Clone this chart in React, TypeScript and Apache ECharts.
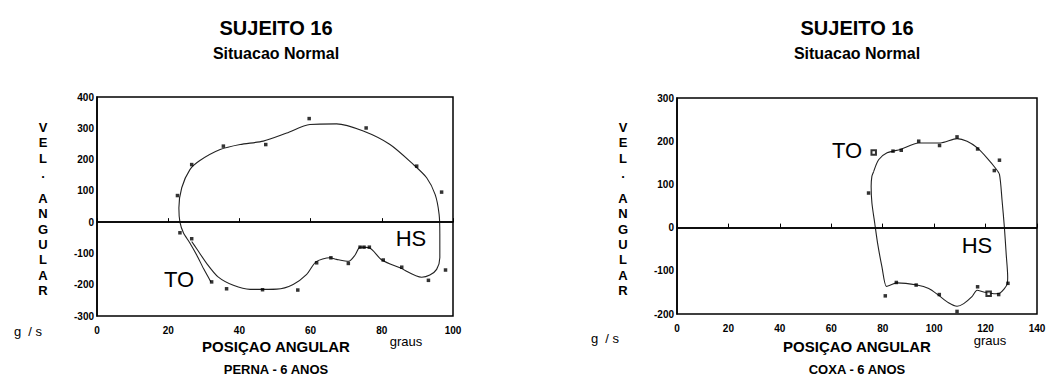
import React, { useEffect, useRef } from "react";
import * as echarts from "echarts";

// ---- Data: left chart (PERNA) ----
const pernaCurve: number[][] = [
  [32, -191], [30, -150], [28, -105], [26, -65], [24.3, -35], [23.3, 0], [23, 45], [23.8, 110],
  [26.1, 168], [28.9, 197], [34.6, 232], [40.2, 248], [46.7, 259], [53.3, 285], [59.8, 312],
  [67.3, 314], [74.8, 291], [82.3, 248], [88.9, 184], [92.6, 142], [95, 88], [96.1, 25],
  [96.3, -39], [96.3, -114], [95.4, -151], [93.5, -169], [91.2, -176], [85.1, -146], [80, -121],
  [76.5, -82], [73.9, -80], [72.5, -105], [70.7, -125], [67.3, -119], [65.4, -114], [61.5, -127],
  [58.9, -167], [55.1, -199], [50.5, -214], [43, -215], [38.3, -202], [34, -175], [31, -135],
  [28, -85], [26.6, -62],
];
const pernaDots: number[][] = [
  [22.6, 85], [26.6, 184], [35.5, 243], [47.4, 248], [59.6, 331], [75.6, 301], [89.8, 179],
  [96.8, 96], [97.9, -153], [93.1, -186], [85.6, -144], [80.4, -121], [75, -80], [76.5, -80],
  [73.9, -80], [70.6, -132], [65.7, -114], [61.7, -130], [56.4, -217], [46.5, -216],
  [36.4, -213], [32.2, -191], [26.6, -53], [23.3, -34],
];

// ---- Data: right chart (COXA) ----
const coxaCurve: number[][] = [
  [76.5, 130], [78.4, 157], [81.7, 173], [86.9, 181], [94, 196], [102.4, 196], [108.9, 206],
  [112.8, 200], [116.7, 185], [120.6, 161], [123.8, 138], [125.4, 123], [126.4, 64], [127.3, 2],
  [128, -60], [128.6, -114], [128.4, -131], [125.7, -151], [123.2, -153], [119.3, -149],
  [116.7, -145], [114.7, -160], [111.5, -176], [108.9, -182], [105.6, -174], [101.8, -157],
  [97.9, -141], [93.3, -133], [85.6, -128], [83, -133], [81.4, -136], [79.7, -91], [78, -36],
  [76.9, 10], [75.8, 57], [75.5, 95], [75.8, 119], [76.5, 130],
];
const coxaDots: number[][] = [
  [74.5, 80], [84, 177], [87.2, 179], [94, 200], [102.1, 190], [108.9, 210], [116.9, 182],
  [125.4, 156], [123.4, 132], [128.7, -129], [125.1, -155], [116.9, -137], [108.9, -194],
  [102, -155], [93, -133], [85.3, -127], [81, -158],
];
const coxaOpenDots: number[][] = [[76.5, 174], [121.2, -153]];

const pernaXTicks = { min: 0, max: 100, interval: 20 };
const pernaYTicks = { min: -300, max: 400, interval: 100 };
const coxaXTicks = { min: 0, max: 140, interval: 20 };
const coxaYTicks = { min: -200, max: 300, interval: 100 };

const TITLE = "SUJEITO 16";
const SUBTITLE = "Situacao Normal";
const XNAME = "POSIÇAO ANGULAR";
const CAPTIONS = ["PERNA - 6 ANOS", "COXA - 6 ANOS"];

const FONT = "'Liberation Sans', Arial, sans-serif";

export default function App() {
  const ref = useRef<HTMLDivElement>(null);
  useEffect(() => {
    if (!ref.current) return;
    const chart = echarts.init(ref.current, null, { renderer: "svg" });

    const axisLabel = { color: "#000", fontSize: 10, fontWeight: "bold" as const, fontFamily: FONT };
    const xAxisBase = (gi: number, t: any) => ({
      type: "value" as const,
      gridIndex: gi,
      min: t.min,
      max: t.max,
      interval: t.interval,
      axisLine: { show: true, lineStyle: { color: "#000", width: 1.5 } },
      axisTick: { show: true, inside: true, length: 4, lineStyle: { color: "#000" } },
      splitLine: { show: false },
      axisLabel: { ...axisLabel, margin: 9 },
    });
    const yAxisBase = (gi: number, t: any) => ({
      type: "value" as const,
      gridIndex: gi,
      min: t.min,
      max: t.max,
      interval: t.interval,
      axisLine: { show: true, lineStyle: { color: "#000", width: 1.5 } },
      axisTick: { show: false },
      splitLine: { show: false },
      axisLabel: { ...axisLabel, margin: 3 },
    });
    const zeroLine = {
      silent: true,
      symbol: "none",
      label: { show: false },
      lineStyle: { color: "#000", width: 1.5, type: "solid" as const },
      data: [{ yAxis: 0 }],
    };
    const curve = (gi: number, data: number[][], withZero: boolean) => ({
      type: "line" as const,
      xAxisIndex: gi,
      yAxisIndex: gi,
      data,
      smooth: 0.25,
      showSymbol: false,
      lineStyle: { color: "#222", width: 1.1 },
      markLine: withZero ? zeroLine : undefined,
      z: 3,
    });
    const dots = (gi: number, data: number[][], symbol = "rect") => ({
      type: "scatter" as const,
      xAxisIndex: gi,
      yAxisIndex: gi,
      data,
      symbol,
      symbolSize: symbol === "emptyRect" ? 4.5 : 3.5,
      itemStyle: { color: "#000", borderColor: "#000", borderWidth: symbol === "emptyRect" ? 1 : 0 },
      z: 4,
    });

    const txt = (x: number, y: number, text: string, size: number, bold: boolean, align = "center") => ({
      type: "text" as const,
      x,
      y,
      style: {
        text,
        fill: "#000",
        font: `${bold ? "bold " : ""}${size}px ${FONT}`,
        textAlign: align,
        textVerticalAlign: "middle",
      },
    });
    const vText = (x: number, y: number, text: string) => ({
      type: "text" as const,
      x,
      y,
      style: {
        text,
        fill: "#000",
        font: `bold 13px ${FONT}`,
        textAlign: "center",
        textVerticalAlign: "top",
        lineHeight: 15.3,
      },
    });

    const panels = [
      { cx: 276, axisX: 43, gsX: 28, grausX: 406, to: [179, 279], hs: [411, 238], gsY: 331, grausY: 341 },
      { cx: 857, axisX: 623, gsX: 605, grausX: 990, to: [847, 150], hs: [977, 245], gsY: 338, grausY: 340 },
    ];
    const graphics: any[] = [];
    panels.forEach((p, i) => {
      graphics.push(txt(p.cx, 28, TITLE, 20, true));
      graphics.push(txt(p.cx, 53, SUBTITLE, 16, true));
      graphics.push(vText(p.axisX, 120, "V\nE\nL\n."));
      graphics.push(vText(p.axisX, 191, "A\nN\nG\nU\nL\nA\nR"));
      graphics.push(txt(p.gsX, p.gsY, "g  / s", 13, false));
      graphics.push(txt(p.grausX, p.grausY, "graus", 13, false));
      graphics.push(txt(p.cx, 346, XNAME, 15, true));
      graphics.push(txt(p.cx, 369, CAPTIONS[i], 13, true));
      graphics.push(txt(p.to[0], p.to[1], "TO", 22, false));
      graphics.push(txt(p.hs[0], p.hs[1], "HS", 22, false));
    });

    chart.setOption({
      animation: false,
      backgroundColor: "#fff",
      grid: [
        { left: 97, top: 97, width: 356, height: 219, show: true, borderColor: "#000", borderWidth: 1.5, backgroundColor: "transparent" },
        { left: 677, top: 98, width: 360, height: 216, show: true, borderColor: "#000", borderWidth: 1.5, backgroundColor: "transparent" },
      ],
      xAxis: [xAxisBase(0, pernaXTicks), xAxisBase(1, coxaXTicks)],
      yAxis: [yAxisBase(0, pernaYTicks), yAxisBase(1, coxaYTicks)],
      series: [
        curve(0, pernaCurve, true),
        dots(0, pernaDots),
        curve(1, coxaCurve, true),
        dots(1, coxaDots),
        dots(1, coxaOpenDots, "emptyRect"),
      ],
      graphic: graphics,
    });
    return () => chart.dispose();
  }, []);
  return (
    <div
      ref={ref}
      style={{ position: "fixed", left: 0, top: 0, width: 1050, height: 377, background: "#fff" }}
    />
  );
}
